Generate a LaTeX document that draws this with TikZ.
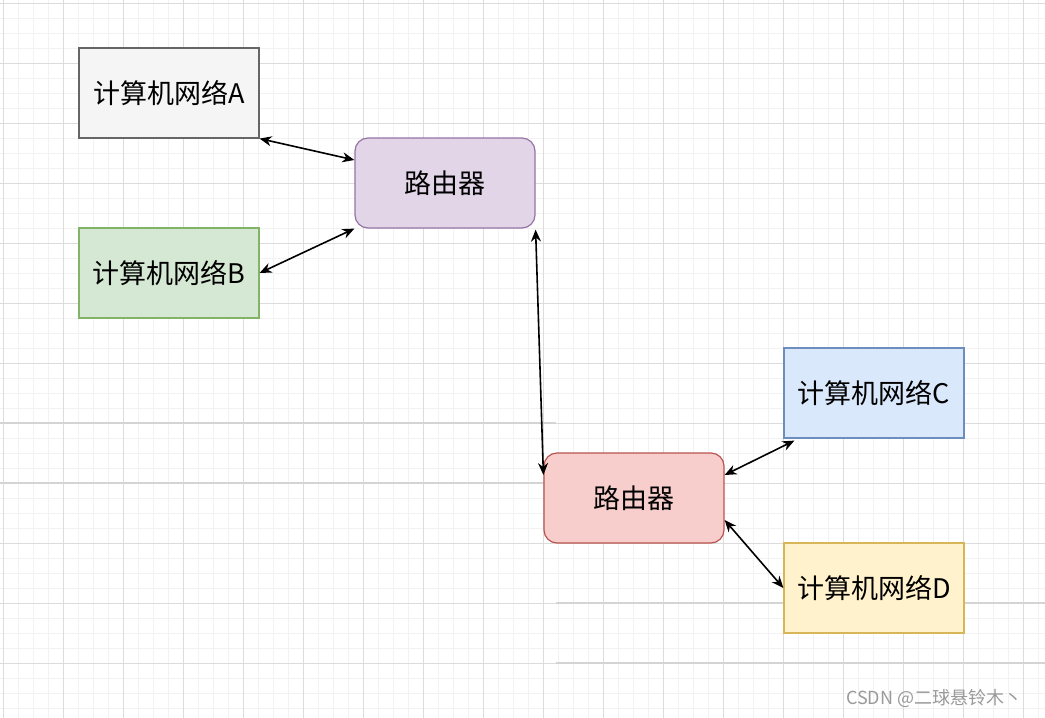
\documentclass[tikz,border=0pt]{standalone}
\usepackage{fontspec}
\setmainfont{Noto Sans CJK SC}
\usetikzlibrary{arrows.meta,calc}
\definecolor{gminor}{HTML}{F2F2F2}
\definecolor{gmajor}{HTML}{DCDCDC}
\definecolor{gseam}{HTML}{D4D4D4}
\definecolor{aFill}{HTML}{F5F5F5}\definecolor{aLine}{HTML}{666666}
\definecolor{bFill}{HTML}{D5E8D4}\definecolor{bLine}{HTML}{82B366}
\definecolor{pFill}{HTML}{E1D5E7}\definecolor{pLine}{HTML}{9673A6}
\definecolor{cFill}{HTML}{DAE8FC}\definecolor{cLine}{HTML}{6C8EBF}
\definecolor{rFill}{HTML}{F8CECC}\definecolor{rLine}{HTML}{B85450}
\definecolor{dFill}{HTML}{FFF2CC}\definecolor{dLine}{HTML}{D6B656}
\definecolor{wm}{HTML}{9A9A9A}
\tikzset{
  netbox/.style={draw, line width=1.2pt, minimum width=180pt, minimum height=90pt, inner sep=0pt, font=\fontsize{27}{32}\selectfont, text=black},
  routerbox/.style={netbox, rounded corners=13pt},
  link/.style={line width=1.6pt, {Stealth[length=12pt,width=10pt]}-{Stealth[length=12pt,width=10pt]}}
}
\begin{document}
\begin{tikzpicture}[x=1pt,y=-1pt]
\useasboundingbox (0,0) rectangle (1045,718);
\fill[white] (0,0) rectangle (1045,718);
% minor grid
\foreach \i in {0,...,70} {
  \draw[gminor, line width=1pt] (3+15*\i,0) -- (3+15*\i,718);
}
\foreach \j in {0,...,48} {
  \draw[gminor, line width=1pt] (0,3+15*\j) -- (1045,3+15*\j);
}
% major grid
\foreach \i in {0,...,17} {
  \draw[gmajor, line width=1pt] (3+60*\i,0) -- (3+60*\i,718);
}
\foreach \j in {0,...,12} {
  \draw[gmajor, line width=1pt] (0,3+60*\j) -- (1045,3+60*\j);
}
% seams
\draw[gseam, line width=1.6pt] (0,423) -- (556,423);
\draw[gseam, line width=1.6pt] (0,483) -- (556,483);
\draw[gseam, line width=1.6pt] (556,603) -- (1045,603);
\draw[gseam, line width=1.6pt] (556,663) -- (1045,663);

% nodes
\node[netbox, fill=aFill, draw=aLine] (a) at (169,93) {计算机网络A};
\node[netbox, fill=bFill, draw=bLine] (b) at (169,273) {计算机网络B};
\node[routerbox, fill=pFill, draw=pLine] (r1) at (445,183) {路由器};
\node[netbox, fill=cFill, draw=cLine] (c) at (874,393) {计算机网络C};
\node[routerbox, fill=rFill, draw=rLine] (r2) at (634,498) {路由器};
\node[netbox, fill=dFill, draw=dLine] (d) at (874,588) {计算机网络D};

% links
\draw[link] (a.south east) -- ([yshift=23pt]r1.west);
\draw[link] (b.east) -- (r1.south west);
\draw[link] ([yshift=-1pt]r1.south east) -- ([yshift=23pt]r2.west);
\draw[link] ([xshift=11pt,yshift=-2pt]c.south west) -- ([yshift=23pt]r2.east);
\draw[link] ([yshift=-22pt]r2.east) -- (d.west);

% watermark
\node[anchor=west, text=wm, font=\fontsize{18}{21}\selectfont, inner sep=0pt] (wmk) at (846,698) {CSDN @二球悬铃木丶};
\end{tikzpicture}
\end{document}
